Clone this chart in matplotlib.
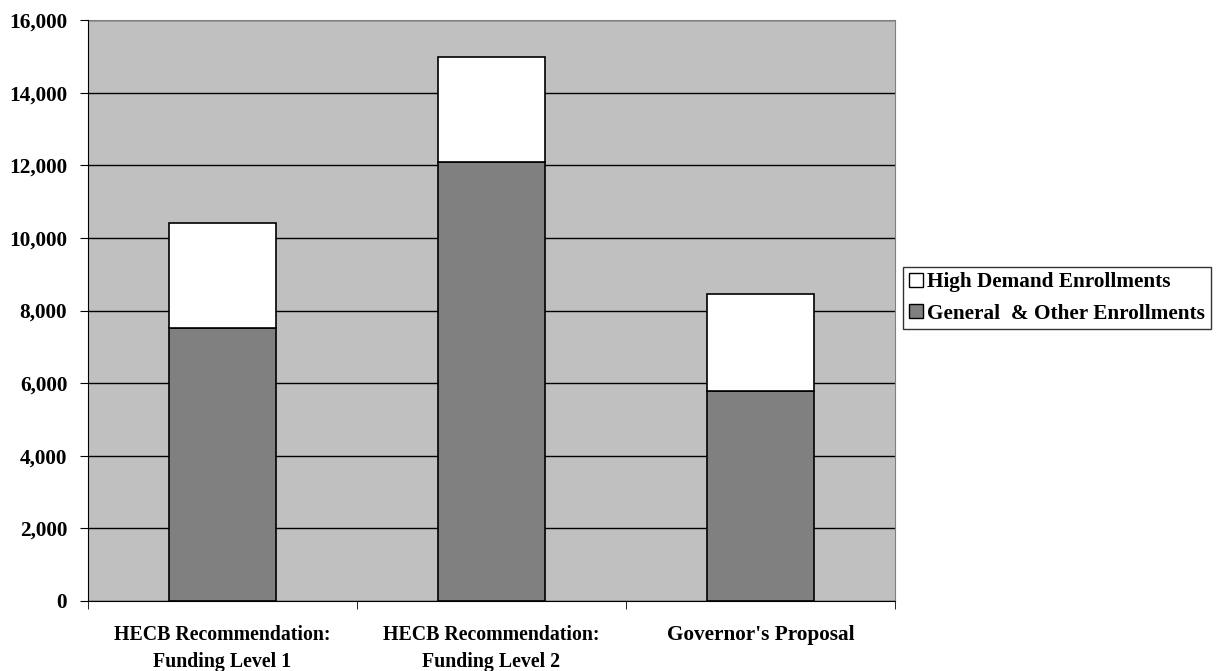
import numpy as np
import matplotlib
matplotlib.use("Agg")
import matplotlib.pyplot as plt
from matplotlib.ticker import FuncFormatter, FixedLocator
from matplotlib.patches import Patch

# values
categories = ["HECB Recommendation:\nFunding Level 1",
              "HECB Recommendation:\nFunding Level 2",
              "Governor's Proposal"]
general = [7520, 12090, 5780]
high_demand = [2900, 2890, 2670]

plt.rcParams['font.family'] = ['Liberation Serif', 'DejaVu Serif']
plt.rcParams['font.weight'] = 'bold'

fig = plt.figure(figsize=(12.22, 6.71), dpi=100)
ax = fig.add_axes([88/1222, 1 - 601/671, (895-88)/1222, (601-20)/671])
ax.set_facecolor('#C0C0C0')

x = np.arange(len(categories))
ax.bar(x, general, width=0.4, color='#808080', edgecolor='black', linewidth=1.2, zorder=3)
ax.bar(x, high_demand, width=0.4, bottom=general, color='white', edgecolor='black',
       linewidth=1.2, zorder=3)

ax.set_xlim(-0.5, len(categories) - 0.5)
ax.set_ylim(0, 16000)
ax.set_yticks(np.arange(0, 16001, 2000))
ax.yaxis.set_major_formatter(FuncFormatter(lambda v, p: f"{int(v):,}"))
ax.grid(axis='y', color='black', linewidth=1, zorder=1)

ax.set_xticks(x)
ax.set_xticklabels(categories, fontweight='bold', linespacing=1.42)
# the two-line labels are drawn a little narrower in the original
for lab, size in zip(ax.get_xticklabels(), [14.3, 14.3, 15.3]):
    lab.set_fontsize(size)
ax.xaxis.set_minor_locator(FixedLocator(np.arange(-0.5, len(categories), 1.0)))
ax.tick_params(axis='x', which='major', length=0, pad=17.5)
ax.tick_params(axis='x', which='minor', length=6, direction='out', color='black')
ax.tick_params(axis='y', length=6, direction='out', labelsize=15.3, pad=9)
for lab in ax.get_yticklabels():
    lab.set_fontweight('bold')

for side in ['top', 'right']:
    ax.spines[side].set_color('#808080')
for side in ['left', 'bottom']:
    ax.spines[side].set_color('black')
    ax.spines[side].set_zorder(4)

handles = [Patch(facecolor='white', edgecolor='black', label='High Demand Enrollments'),
           Patch(facecolor='#808080', edgecolor='black', label='General  & Other Enrollments')]
leg = fig.legend(handles=handles, loc='center left', bbox_to_anchor=(903/1222, 1 - 298/671),
                 frameon=True, fancybox=False, edgecolor='black', fontsize=15.3,
                 handlelength=0.65, handleheight=0.65, handletextpad=0.23,
                 borderpad=0.27, labelspacing=0.52, borderaxespad=0)
leg.get_frame().set_linewidth(1)
for t in leg.get_texts():
    t.set_fontweight('bold')

fig.savefig('out.png', dpi=100)
